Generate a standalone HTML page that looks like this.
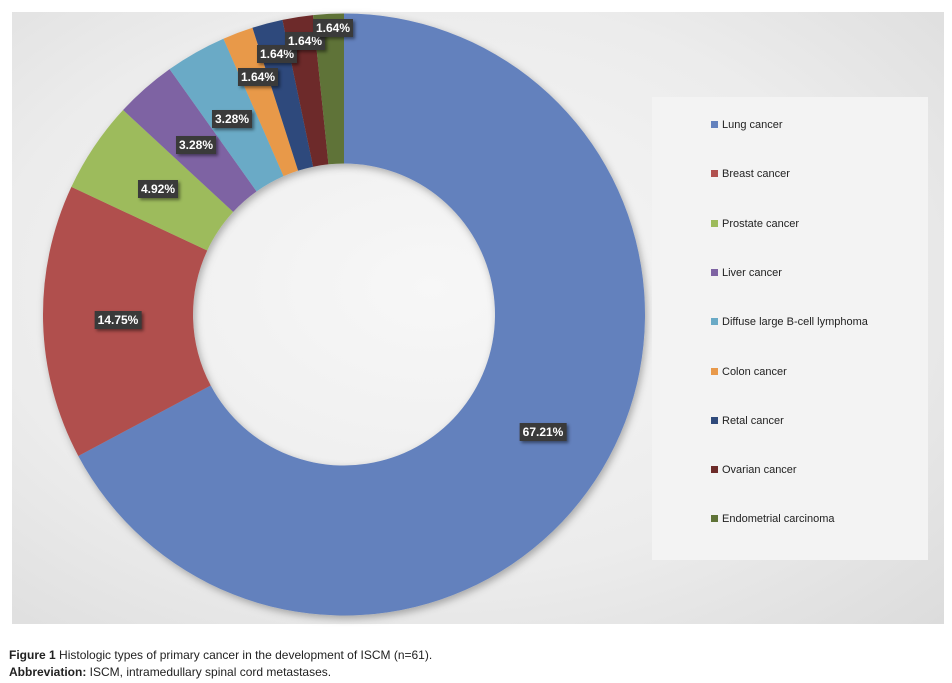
<!DOCTYPE html>
<html><head><meta charset="utf-8"><style>
body{margin:0;background:#fff;width:952px;height:683px;position:relative;overflow:hidden;font-family:"Liberation Sans",sans-serif}
#panel{position:absolute;left:12px;top:12px;width:932px;height:612px;background:radial-gradient(ellipse at 45% 45%,#f7f7f7 0%,#ececec 60%,#dcdcdc 100%)}
#leg{position:absolute;left:652px;top:97px;width:276px;height:463px;background:#f3f3f3}
.li{position:absolute;left:59px;font-size:11px;color:#222;line-height:12px}
.li i{display:inline-block;width:7px;height:7px;margin-right:4px;vertical-align:0px}
.lab{position:absolute;background:#3a3a3a;color:#fff;font-weight:bold;font-size:12px;padding:2px 3px;line-height:14px;box-shadow:2px 2px 3px rgba(0,0,0,.45);transform:translate(-50%,-50%)}
.cap{position:absolute;left:9px;font-size:12px;color:#222}
</style></head><body>
<div id="panel"></div>
<svg id="s" width="952" height="683" style="position:absolute;left:0;top:0"></svg>
<div id="leg"></div>
<div class="lab" style="left:543px;top:432px">67.21%</div>
<div class="lab" style="left:118px;top:320px">14.75%</div>
<div class="lab" style="left:158px;top:189px">4.92%</div>
<div class="lab" style="left:196px;top:145px">3.28%</div>
<div class="lab" style="left:232px;top:119px">3.28%</div>
<div class="lab" style="left:258px;top:77px">1.64%</div>
<div class="lab" style="left:277px;top:54px">1.64%</div>
<div class="lab" style="left:305px;top:41px">1.64%</div>
<div class="lab" style="left:333px;top:28px">1.64%</div>
<div class="cap" style="top:648px"><b>Figure 1</b> Histologic types of primary cancer in the development of ISCM (n=61).</div>
<div class="cap" style="top:665px"><b>Abbreviation:</b> ISCM, intramedullary spinal cord metastases.</div>
<script>
var d=[[41,"#6381bd","Lung cancer"],[9,"#b0504e","Breast cancer"],[3,"#9dbb5b","Prostate cancer"],[2,"#7e63a3","Liver cancer"],[2,"#6aaac6","Diffuse large B-cell lymphoma"],[1,"#e8994a","Colon cancer"],[1,"#2f4a7b","Retal cancer"],[1,"#6d2b29","Ovarian cancer"],[1,"#5f7337","Endometrial carcinoma"]];
var cx=344,cy=314.5,R=301,r=151,a=0,h='',L='';
d.forEach(function(e,i){var a2=a+e[0]/61*2*Math.PI;
function p(rad,t){return (cx+rad*Math.sin(t)).toFixed(2)+','+(cy-rad*Math.cos(t)).toFixed(2)}
var lg=(a2-a)>Math.PI?1:0;
h+='<path fill="'+e[1]+'" d="M'+p(R,a)+'A'+R+','+R+' 0 '+lg+' 1 '+p(R,a2)+'L'+p(r,a2)+'A'+r+','+r+' 0 '+lg+' 0 '+p(r,a)+'Z"/>';
a=a2;
L+='<div class="li" style="top:'+(22+i*49.3)+'px"><i style="background:'+e[1]+'"></i>'+e[2]+'</div>';});
document.getElementById('s').innerHTML='<defs><filter id="f"><feDropShadow dx="2" dy="3" stdDeviation="4" flood-opacity="0.3"/></filter></defs><g filter="url(#f)">'+h+'</g>';
document.getElementById('leg').innerHTML=L;
</script>
</body></html>
